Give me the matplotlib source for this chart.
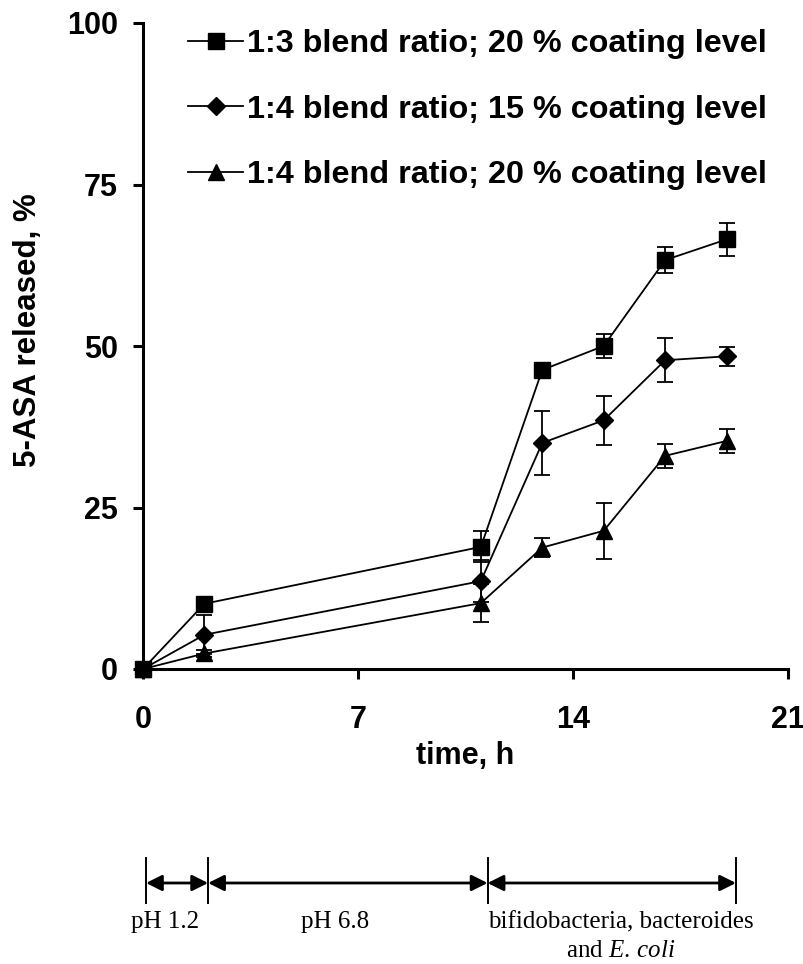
import numpy as np
import matplotlib
matplotlib.use('Agg')
import matplotlib.pyplot as plt

plt.rcParams['font.family'] = ['Liberation Sans', 'DejaVu Sans']
plt.rcParams['mathtext.fontset'] = 'custom'
plt.rcParams['mathtext.rm'] = 'Liberation Serif'
plt.rcParams['mathtext.it'] = 'Liberation Serif:italic'

# Release data (time in h, % released, SD)
time_h = [0, 2, 11, 13, 15, 17, 19]
blend13_c20 = [0, 10.1, 18.9, 46.3, 50.0, 63.3, 66.5]
blend13_c20_err = [0, 0.6, 2.4, 0.5, 1.8, 2.0, 2.6]
blend14_c15 = [0, 5.3, 13.6, 35.0, 38.5, 47.8, 48.4]
blend14_c15_err = [0, 3.0, 3.2, 4.9, 3.8, 3.4, 1.5]
blend14_c20 = [0, 2.4, 10.2, 18.8, 21.4, 33.0, 35.3]
blend14_c20_err = [0, 0.5, 3.0, 1.5, 4.3, 1.9, 1.8]

labels = ['1:3 blend ratio; 20 % coating level',
          '1:4 blend ratio; 15 % coating level',
          '1:4 blend ratio; 20 % coating level']

# dissolution media phases (h)
phase_edges = [0, 2, 11, 19]
phase_names = ['pH 1.2', 'pH 6.8', 'bifidobacteria, bacteroides']

fig = plt.figure(figsize=(8.04, 9.64), dpi=100)
ax = fig.add_axes([143 / 804, 1 - 669 / 964, (788 - 143) / 804, (669 - 23) / 964])

series = [(blend13_c20, blend13_c20_err, 's', 11),
          (blend14_c15, blend14_c15_err, 'D', 9.5),
          (blend14_c20, blend14_c20_err, '^', 11.5)]
handles = []
for (vals, err, mk, ms), lab in zip(series, labels):
    cont = ax.errorbar(time_h, vals, yerr=err, color='black', marker=mk, markersize=ms,
                       linewidth=1.3, elinewidth=1.3, capsize=6, capthick=1.3,
                       label=lab, clip_on=False, zorder=3)
    handles.append(cont[0])

ax.set_xlim(0, 21)
ax.set_ylim(0, 100)
ax.set_xticks([0, 7, 14, 21])
ax.set_yticks([0, 25, 50, 75, 100])
for s in ['top', 'right']:
    ax.spines[s].set_visible(False)
for s in ['left', 'bottom']:
    ax.spines[s].set_linewidth(2.2)
ax.tick_params(direction='out', length=7, width=2.2, labelsize=22)
ax.tick_params(axis='x', pad=19)
ax.tick_params(axis='y', pad=11)
for t in ax.get_xticklabels() + ax.get_yticklabels():
    t.set_fontweight('bold')
ax.set_xlabel('time, h', fontsize=22, fontweight='bold', labelpad=4)
ax.set_ylabel('5-ASA released, %', fontsize=22.5, fontweight='bold')
ax.yaxis.set_label_coords(-0.155, 0.525)

leg = ax.legend(handles, labels, loc='upper left', bbox_to_anchor=(188 / 804, 1 - 29 / 964),
                bbox_transform=fig.transFigure, frameon=False, fontsize=23.3,
                handlelength=1.7, handletextpad=0.12, labelspacing=1.1,
                borderpad=0, borderaxespad=0)
for t in leg.get_texts():
    t.set_fontweight('bold')

# phase annotation below the chart
ax2 = fig.add_axes([146 / 804, 0, (736 - 146) / 804, (964 - 850) / 964])
ax2.set_xlim(phase_edges[0], phase_edges[-1])
ax2.set_ylim(964, 850)
ax2.axis('off')
for e in phase_edges:
    ax2.plot([e, e], [858, 903], color='black', linewidth=1.4, clip_on=False)
for a, b in zip(phase_edges[:-1], phase_edges[1:]):
    ax2.annotate('', xy=(b, 883), xytext=(a, 883),
                 arrowprops=dict(arrowstyle='<|-|>', color='black', lw=2,
                                 mutation_scale=24, shrinkA=0, shrinkB=0))
text_x = [0.6, 6.1, 15.3]
for x, name in zip(text_x, phase_names):
    ax2.text(x, 922, name, ha='center', va='center', fontsize=18,
             family=['Liberation Serif', 'DejaVu Serif'])
ax2.text(text_x[2], 951, r'and $\mathit{E.\,coli}$', ha='center', va='center',
         fontsize=18, family=['Liberation Serif', 'DejaVu Serif'])

fig.savefig('out.png', dpi=100)
